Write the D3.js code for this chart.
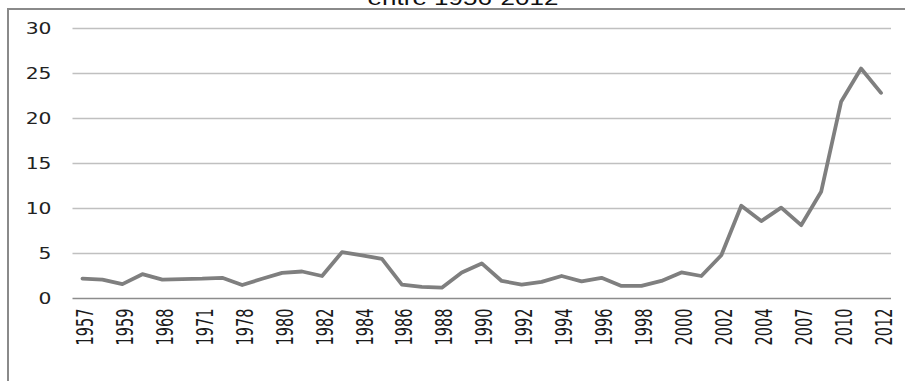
<!DOCTYPE html>
<html>
<head>
<meta charset="utf-8">
<script src="https://cdn.jsdelivr.net/npm/d3@7"></script>
<style>
  html, body { margin: 0; padding: 0; background: #fff; }
  svg { display: block; }
</style>
</head>
<body>
<svg id="chart" width="905" height="381"></svg>
<script>
// Years on the category axis (only every other one carries a label)
const years = [
  "1957", "1958", "1959", "1966", "1968", "1970", "1971", "1974", "1978", "1979",
  "1980", "1981", "1982", "1983", "1984", "1985", "1986", "1987", "1988", "1989",
  "1990", "1991", "1992", "1993", "1994", "1995", "1996", "1997", "1998", "1999",
  "2000", "2001", "2002", "2003", "2004", "2006", "2007", "2009", "2010", "2011",
  "2012"
];

// Series values, one per year
const values = [
  2.2, 2.1, 1.6, 2.7, 2.1, 2.15, 2.2, 2.3, 1.5, 2.2,
  2.85, 3.0, 2.5, 5.15, 4.8, 4.4, 1.55, 1.3, 1.2, 2.9,
  3.9, 1.95, 1.55, 1.85, 2.5, 1.9, 2.3, 1.4, 1.4, 1.95,
  2.9, 2.5, 4.8, 10.3, 8.6, 10.1, 8.15, 11.85, 21.85, 25.55,
  22.85
];

// Value axis ticks
const yTicks = [0, 5, 10, 15, 20, 25, 30];

const title = "entre 1956-2012";

const svg = d3.select("#chart");

// Frame around the chart area (top and left edges visible)
svg.append("path")
  .attr("d", "M8,381 V9 H905")
  .attr("fill", "none")
  .attr("stroke", "#8a8a8a")
  .attr("stroke-width", 2);

// Title, mostly clipped at the top edge
svg.append("text")
  .attr("transform", "translate(463,4.5) scale(1.3,1)")
  .attr("text-anchor", "middle")
  .attr("font-family", "Liberation Sans, Arial, sans-serif")
  .attr("font-size", 20)
  .attr("fill", "#111")
  .text(title);

const x = d3.scalePoint()
  .domain(years)
  .range([72.5, 891])
  .padding(0.5);

const y = d3.scaleLinear()
  .domain([0, 30])
  .range([298.5, 28.5]);

// Horizontal gridlines
svg.append("g")
  .selectAll("line")
  .data(yTicks.filter(d => d !== 0))
  .join("line")
  .attr("x1", 72.5)
  .attr("x2", 891)
  .attr("y1", d => y(d))
  .attr("y2", d => y(d))
  .attr("stroke", "#c0c0c0")
  .attr("stroke-width", 1.3);

// Category axis baseline
svg.append("line")
  .attr("x1", 72.5)
  .attr("x2", 891)
  .attr("y1", y(0))
  .attr("y2", y(0))
  .attr("stroke", "#8c8c8c")
  .attr("stroke-width", 1.3);

// Value axis labels
svg.append("g")
  .selectAll("text")
  .data(yTicks)
  .join("text")
  .attr("transform", d => `translate(51.5,${y(d)}) scale(1.27,1)`)
  .attr("dy", "0.36em")
  .attr("text-anchor", "end")
  .attr("font-family", "DejaVu Sans, Verdana, sans-serif")
  .attr("font-size", 16)
  .attr("fill", "#222")
  .text(d => d);

// Category labels, rotated, every other year
svg.append("g")
  .selectAll("text")
  .data(years.filter((d, i) => i % 2 === 0))
  .join("text")
  .attr("transform", d => `translate(${x(d) + 2.2},308.5) scale(1.6,1) rotate(-90)`)
  .attr("dy", "0.36em")
  .attr("text-anchor", "end")
  .attr("font-family", "DejaVu Sans, sans-serif")
  .attr("font-size", 14.5)
  .attr("fill", "#1a1a1a")
  .text(d => d);

// Data line
const line = d3.line()
  .x((d, i) => x(years[i]))
  .y(d => y(d));

svg.append("path")
  .datum(values)
  .attr("d", line)
  .attr("fill", "none")
  .attr("stroke", "#7f7f7f")
  .attr("stroke-width", 3.8)
  .attr("stroke-linejoin", "round")
  .attr("stroke-linecap", "round");
</script>
</body>
</html>
